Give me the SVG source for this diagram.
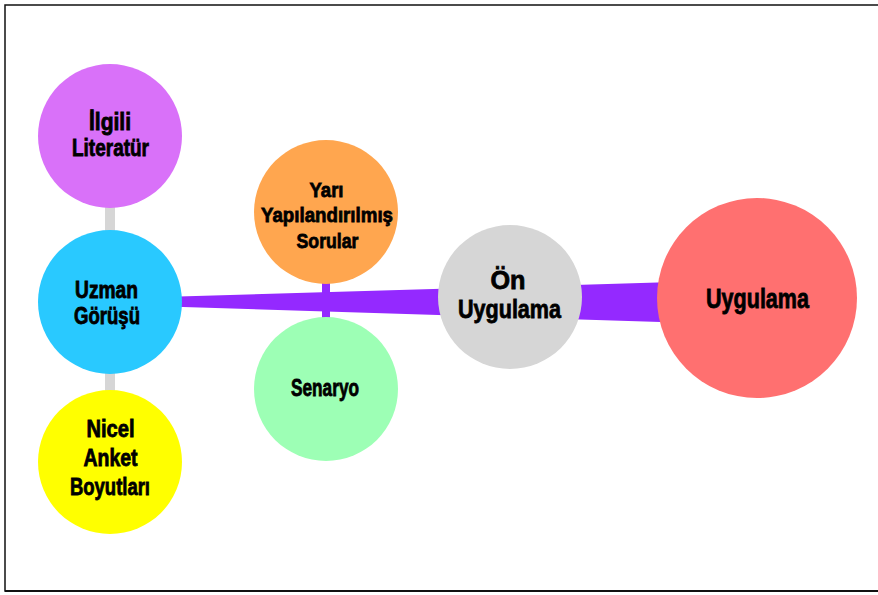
<svg xmlns="http://www.w3.org/2000/svg" width="878" height="595" viewBox="0 0 878 595">
<style>
text{font-family:"Liberation Sans",Arial,sans-serif;font-weight:bold;fill:#000;stroke:#000;stroke-width:0.8;text-anchor:middle}
.s{font-size:21px}.m{font-size:23px}.l{font-size:26px}.xl{font-size:28px}
.gray{stroke:#D6D6D6;stroke-width:10}
.pv{stroke:#9429FF;stroke-width:8}
</style>
<rect x="0" y="0" width="878" height="595" fill="#fff"/>
<rect x="5" y="5" width="885" height="586" fill="none" stroke="#111" stroke-width="1.5"/>
<line x1="5" y1="591" x2="878" y2="591" stroke="#111" stroke-width="2"/>
<g id="connectors">
<line class="gray" x1="110" y1="136" x2="110" y2="462"/>
<line class="pv" x1="326" y1="212" x2="326" y2="389"/>
<polygon points="110,298.6 757,279.6 757,325.1 110,304.7" fill="#9429FF"/>
</g>
<g id="n-literatur">
<circle cx="110" cy="136" r="72" fill="#D971F9"/>
<text class="m" x="110" y="130" textLength="42" lengthAdjust="spacingAndGlyphs">İlgili</text>
<text class="m" x="110.5" y="156" textLength="77" lengthAdjust="spacingAndGlyphs">Literatür</text>
</g>
<g id="n-uzman">
<circle cx="110" cy="302" r="72" fill="#29C9FF"/>
<text class="m" x="106.5" y="297.5" textLength="63" lengthAdjust="spacingAndGlyphs">Uzman</text>
<text class="m" x="107" y="324" textLength="66" lengthAdjust="spacingAndGlyphs">Görüşü</text>
</g>
<g id="n-nicel">
<circle cx="110" cy="462" r="72" fill="#FFFF00"/>
<text class="m" x="110.5" y="437" textLength="48" lengthAdjust="spacingAndGlyphs">Nicel</text>
<text class="m" x="110.5" y="466" textLength="54" lengthAdjust="spacingAndGlyphs">Anket</text>
<text class="m" x="110" y="495" textLength="80" lengthAdjust="spacingAndGlyphs">Boyutları</text>
</g>
<g id="n-yari">
<circle cx="326" cy="212" r="72" fill="#FFA64F"/>
<text class="s" x="326.5" y="197" textLength="34" lengthAdjust="spacingAndGlyphs">Yarı</text>
<text class="s" x="327" y="222" textLength="132" lengthAdjust="spacingAndGlyphs">Yapılandırılmış</text>
<text class="s" x="327.5" y="248" textLength="62" lengthAdjust="spacingAndGlyphs">Sorular</text>
</g>
<g id="n-senaryo">
<circle cx="326" cy="389" r="72" fill="#9DFFB5"/>
<text class="m" x="325" y="396" textLength="68" lengthAdjust="spacingAndGlyphs">Senaryo</text>
</g>
<g id="n-on">
<circle cx="510" cy="297" r="72" fill="#D6D6D6"/>
<text class="l" x="508" y="289" textLength="35" lengthAdjust="spacingAndGlyphs">Ön</text>
<text class="l" x="509.5" y="318" textLength="103" lengthAdjust="spacingAndGlyphs">Uygulama</text>
</g>
<g id="n-uygulama">
<circle cx="757" cy="298" r="100" fill="#FF7070"/>
<text class="xl" x="757.5" y="308" textLength="103" lengthAdjust="spacingAndGlyphs">Uygulama</text>
</g>
</svg>
